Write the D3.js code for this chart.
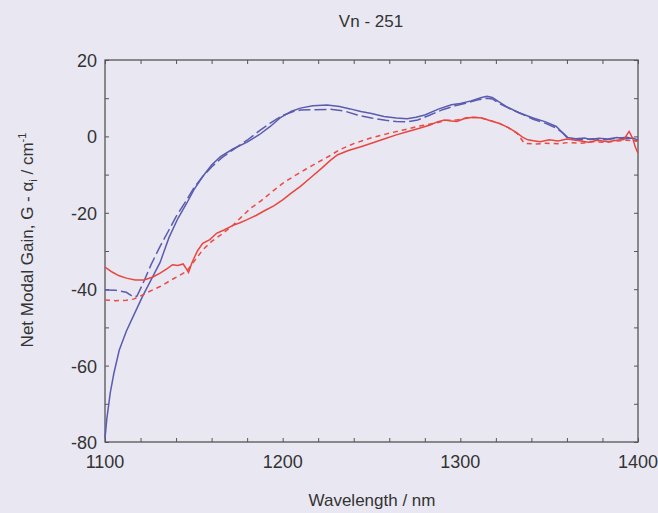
<!DOCTYPE html>
<html>
<head>
<meta charset="utf-8">
<script src="https://cdn.jsdelivr.net/npm/d3@7"></script>
<style>
  body { margin: 0; background: #e9e8f2; }
  svg { display: block; }
  text { font-family: "Liberation Sans", Arial, sans-serif; fill: #333; }
</style>
</head>
<body>
<div id="chart"></div>
<script>
// wavelength (nm), net modal gain (cm^-1)
const blueSolid = [
  [1100, -79], [1101, -74], [1103, -67], [1105, -62], [1108, -56], [1112, -51], [1116, -47],
  [1121, -42], [1126, -37.5], [1131, -33], [1136, -26.5], [1141, -21.5], [1146, -17.5],
  [1150, -14], [1155, -10.5], [1160, -7.5], [1165, -5.3], [1172, -3.3], [1180, -1.5],
  [1187, 0.5], [1193, 2.6], [1199, 5], [1205, 6.6], [1210, 7.4], [1217, 8], [1225, 8.2],
  [1232, 7.8], [1238, 7.2], [1244, 6.5], [1250, 6], [1257, 5.2], [1264, 4.8], [1270, 4.6],
  [1275, 5], [1280, 5.6], [1288, 7.2], [1295, 8.3], [1300, 8.6], [1306, 9.3], [1312, 10.2],
  [1315, 10.5], [1318, 10.2], [1322, 9], [1326, 7.8], [1333, 6.2], [1341, 4.8], [1348, 3.8],
  [1354, 2.6], [1357, 1.2], [1360, -0.3], [1365, -0.6], [1370, -0.4], [1373, -0.8],
  [1378, -0.5], [1383, -0.7], [1388, -0.3], [1393, -0.6], [1397, -0.4], [1400, -0.9]
];
const blueDashed = [
  [1100, -40.2], [1106, -40.3], [1112, -40.8], [1116, -42], [1118, -41.8], [1121, -38.9],
  [1126, -33.5], [1131, -28.8], [1136, -24.5], [1140, -21], [1146, -16.6], [1150, -13.5],
  [1155, -10.5], [1160, -8], [1166, -5.5], [1172, -3.5], [1180, -1], [1187, 1.5], [1193, 3.5],
  [1200, 5.5], [1206, 6.5], [1210, 6.9], [1218, 7], [1227, 7.1], [1235, 6.6], [1242, 5.6],
  [1250, 4.8], [1258, 4.2], [1264, 3.9], [1270, 3.8], [1276, 4.3], [1282, 5.4], [1290, 7],
  [1297, 8], [1303, 8.7], [1310, 9.6], [1315, 10], [1318, 9.8], [1322, 8.6], [1328, 7.2],
  [1335, 5.8], [1341, 4.5], [1348, 3.4], [1354, 2.2], [1358, 0.8], [1361, -0.5], [1368, -0.9],
  [1375, -0.6], [1382, -0.9], [1388, -0.5], [1394, -0.2], [1397, -0.8], [1400, -1.2]
];
const redSolid = [
  [1100, -34.2], [1104, -35.5], [1108, -36.5], [1112, -37.1], [1117, -37.6], [1122, -37.6],
  [1127, -36.8], [1131, -35.8], [1135, -34.6], [1138, -33.6], [1141, -33.8], [1144, -33.4],
  [1146, -34.8], [1147, -35.6], [1149, -33], [1152, -30], [1155, -28], [1159, -27],
  [1163, -25.3], [1167, -24.5], [1172, -23.3], [1176, -22.6], [1180, -21.8], [1185, -20.7],
  [1190, -19.4], [1195, -18.2], [1200, -16.6], [1205, -14.8], [1210, -13.1], [1216, -10.7],
  [1222, -8.3], [1227, -6.2], [1231, -4.8], [1237, -3.7], [1244, -2.7], [1250, -1.8],
  [1257, -0.7], [1264, 0.4], [1270, 1.2], [1276, 2], [1283, 3], [1287, 3.8], [1291, 4.3],
  [1295, 4], [1298, 3.9], [1302, 4.6], [1307, 5], [1312, 4.8], [1317, 4.1], [1322, 3.4],
  [1327, 2.3], [1331, 1.2], [1335, -0.2], [1338, -0.9], [1342, -1.2], [1345, -1.4], [1350, -0.9],
  [1355, -1.2], [1360, -0.7], [1366, -1.1], [1372, -1.5], [1377, -1], [1383, -1.4],
  [1388, -1], [1392, -0.8], [1395, 1.3], [1397, -0.5], [1398.5, -2.8], [1400, -4.4]
];
const redDashed = [
  [1100, -42.8], [1106, -43], [1112, -42.9], [1116, -42.6], [1119, -42], [1124, -40.8],
  [1131, -39.3], [1138, -37.4], [1146, -35.3], [1151, -32.2], [1155, -29.7], [1160, -27.5],
  [1166, -25.5], [1172, -23.3], [1177, -21], [1182, -18.8], [1188, -16.8], [1194, -14.5],
  [1200, -12.3], [1206, -10.5], [1213, -8.6], [1219, -7], [1226, -5.2], [1232, -3.5],
  [1240, -1.9], [1249, -0.5], [1258, 0.6], [1268, 1.7], [1277, 2.7], [1286, 3.5], [1292, 4.2],
  [1298, 4.3], [1305, 5], [1311, 4.9], [1316, 4.3], [1322, 3.4], [1327, 2.3], [1332, 0.8],
  [1336, -1.8], [1342, -2.0], [1348, -1.8], [1355, -1.9], [1361, -1.6], [1368, -1.8],
  [1375, -1.4], [1382, -1.6], [1388, -1.2], [1394, -1], [1400, -1.3]
];

const xMajorTicks = [1100, 1200, 1300, 1400];
const yMajorTicks = [20, 0, -20, -40, -60, -80];

const width = 658, height = 513;
const margin = { top: 60, right: 20, bottom: 71, left: 105 };

const svg = d3.select('#chart').append('svg')
  .attr('width', width)
  .attr('height', height);

const x = d3.scaleLinear().domain([1100, 1400]).range([margin.left, width - margin.right]);
const y = d3.scaleLinear().domain([-80, 20]).range([height - margin.bottom, margin.top]);

const axisColor = '#555';

// inward ticks on all four sides
function styleAxis(g) {
  g.select('.domain').remove();
  g.selectAll('line').attr('stroke', axisColor).attr('stroke-width', 1);
}
const xMinor = d3.range(1100, 1401, 20);
const yMinor = d3.range(-80, 21, 10);

svg.append('g').attr('transform', `translate(0,${y(-80)})`)
  .call(d3.axisBottom(x).tickValues(xMinor).tickSize(-4).tickFormat(''))
  .call(styleAxis);
svg.append('g').attr('transform', `translate(0,${y(20)})`)
  .call(d3.axisTop(x).tickValues(xMinor).tickSize(-4).tickFormat(''))
  .call(styleAxis);
svg.append('g').attr('transform', `translate(${x(1100)},0)`)
  .call(d3.axisLeft(y).tickValues(yMinor).tickSize(-4).tickFormat(''))
  .call(styleAxis);
svg.append('g').attr('transform', `translate(${x(1400)},0)`)
  .call(d3.axisRight(y).tickValues(yMinor).tickSize(-4).tickFormat(''))
  .call(styleAxis);

// frame
svg.append('rect')
  .attr('x', x(1100)).attr('y', y(20))
  .attr('width', x(1400) - x(1100)).attr('height', y(-80) - y(20))
  .attr('fill', 'none').attr('stroke', axisColor).attr('stroke-width', 1.3);

// tick labels
svg.append('g').selectAll('text').data(xMajorTicks).join('text')
  .attr('x', d => x(d)).attr('y', y(-80) + 26)
  .attr('text-anchor', 'middle').style('font-size', '18px')
  .text(d => d);
svg.append('g').selectAll('text').data(yMajorTicks).join('text')
  .attr('x', x(1100) - 8).attr('y', d => y(d) + 7)
  .attr('text-anchor', 'end').style('font-size', '18px')
  .text(d => d);

// lines
const line = d3.line().x(d => x(d[0])).y(d => y(d[1]));
const series = [
  { data: blueSolid, color: '#5b5bb0', dash: null },
  { data: blueDashed, color: '#5b5bb0', dash: '12,4' },
  { data: redDashed, color: '#ee4a44', dash: '5,4' },
  { data: redSolid, color: '#e8463e', dash: null },
];
svg.append('g').selectAll('path').data(series).join('path')
  .attr('d', d => line(d.data))
  .attr('fill', 'none')
  .attr('stroke', d => d.color)
  .attr('stroke-width', 1.5)
  .attr('stroke-dasharray', d => d.dash);

// title and axis labels
svg.append('text')
  .attr('x', 371).attr('y', 27)
  .attr('text-anchor', 'middle').style('font-size', '17px')
  .text('Vn - 251');

svg.append('text')
  .attr('x', 372).attr('y', 506)
  .attr('text-anchor', 'middle').style('font-size', '17px')
  .text('Wavelength / nm');

const yLabel = svg.append('text')
  .attr('transform', 'translate(33,240) rotate(-90)')
  .attr('text-anchor', 'middle').style('font-size', '17px');
yLabel.append('tspan').text('Net Modal Gain, G - α');
yLabel.append('tspan').attr('dy', 4).style('font-size', '11px').text('i');
yLabel.append('tspan').attr('dy', -4).text(' / cm');
yLabel.append('tspan').attr('dy', -7).style('font-size', '11px').text('-1');
</script>
</body>
</html>
